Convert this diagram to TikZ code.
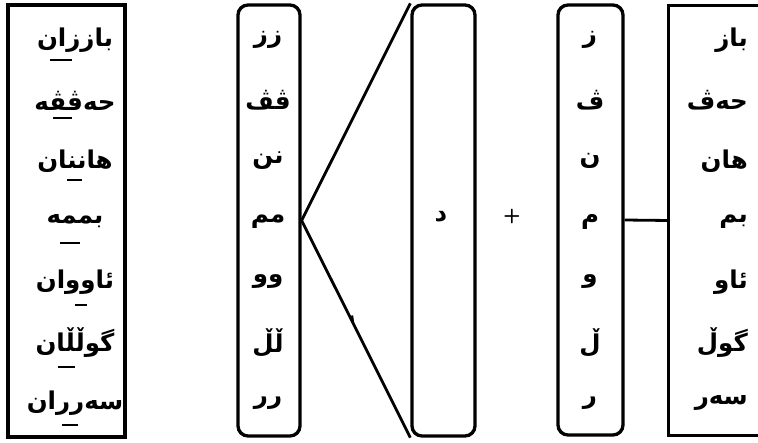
\documentclass[tikz,border=0pt]{standalone}
\usepackage{fontspec}
\newfontfamily\arabicfont[Script=Arabic]{DejaVu Sans}
\TeXXeTstate=1
\newcommand\artxt[1]{\arabicfont\bfseries\beginR #1\endR}
\begin{document}
\begin{tikzpicture}[x=1pt,y=-1pt,
  ar/.style={font=\fontsize{24.5}{28}\selectfont, inner sep=0pt},
  frame/.style={draw, line width=3.3pt, inner sep=0pt},
  rbox/.style={frame, rounded corners=10pt},
  conn/.style={line width=2.8pt},
  uline/.style={line width=2pt}]
\useasboundingbox (0,0) rectangle (758,442);
% boxes
\node[frame, minimum width=117pt, minimum height=432pt] (L) at (66.5,221) {};
\node[rbox, minimum width=62pt, minimum height=431pt] (B2) at (269,220.5) {};
\node[rbox, minimum width=63pt, minimum height=431pt] (B3) at (443.5,220.5) {};
\node[rbox, minimum width=65pt, minimum height=430pt] (B4) at (590.5,220) {};
\node[inner sep=0pt, minimum width=90pt, minimum height=429pt] (R) at (714,220.5) {};
\draw[line width=3.3pt] (R.north east) -- (R.north west) -- (R.south west) -- (R.south east);
% words
\foreach \w [count=\i] in {باززان,حەڤڤە,هاننان,بممە,ئاووان,گوڵڵان,سەرران}{
  \node[ar] (l\i) at (75,{40+60.5*(\i-1)}) {\artxt{\w}};
}
\foreach \w [count=\i] in {زز,ڤڤ,نن,مم,وو,ڵڵ,رر}{
  \node[ar] (m\i) at (268,{40+60.5*(\i-1)}) {\artxt{\w}};
}
\foreach \w [count=\i] in {ز,ڤ,ن,م,و,ڵ,ر}{
  \node[ar] (s\i) at (590,{40+60.5*(\i-1)}) {\artxt{\w}};
}
\foreach \w [count=\i] in {باز,حەڤ,هان,بم,ئاو,گوڵ,سەر}{
  \node[ar, anchor=east] (r\i) at (748,{40+60.5*(\i-1)}) {\artxt{\w}};
}
\node[ar] (d) at (441,217) {\artxt{د}};
\node[font=\sffamily\bfseries\fontsize{20}{22}\selectfont, inner sep=0pt] (plus) at (512,216) {+};
% underlines
\draw[uline] (50,60) -- (72,60);
\draw[uline] (53,118) -- (72,118);
\draw[uline] (67,180) -- (82,180);
\draw[uline] (60,243) -- (80,243);
\draw[uline] (75,305) -- (87,305);
\draw[uline] (58,367) -- (75,367);
\draw[uline] (62,425) -- (78,425);
% connectors
\draw[conn] (B3.north west) -- (B2.east) -- (B3.south west);
\path (B2.east) -- (B3.south west) coordinate[pos=0.47] (tk);
\draw[conn] (tk) -- ++(-1,-7);
\draw[conn] (B4.east) -- (R.west);
\end{tikzpicture}
\end{document}
